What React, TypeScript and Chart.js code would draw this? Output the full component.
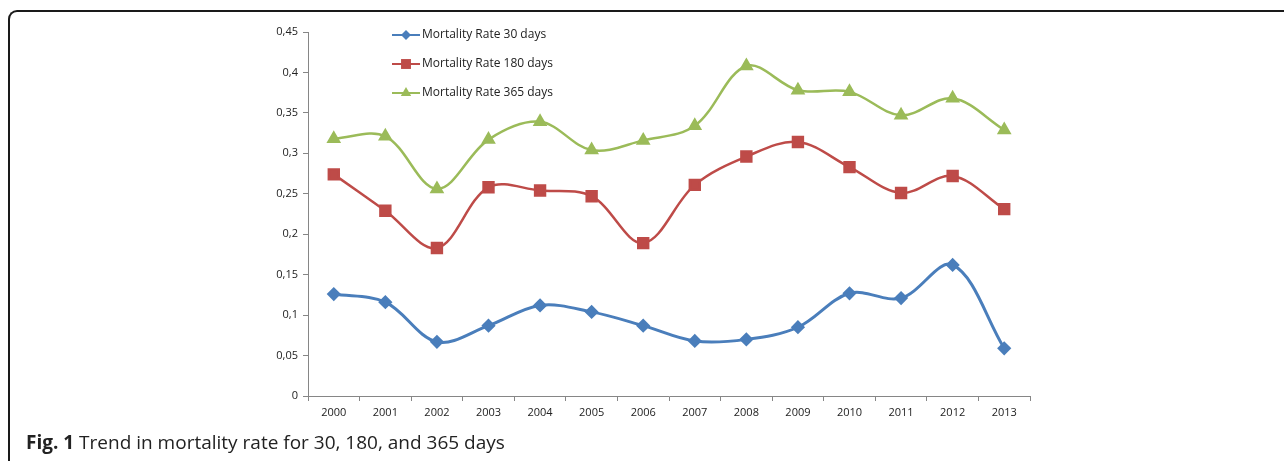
import React, { useEffect, useRef } from "react";
import { Chart, registerables } from "chart.js";

Chart.register(...registerables);

const years = ["2000","2001","2002","2003","2004","2005","2006","2007","2008","2009","2010","2011","2012","2013"];
const rate30 = [0.126,0.116,0.067,0.087,0.112,0.104,0.087,0.068,0.070,0.085,0.127,0.121,0.162,0.059];
const rate180 = [0.274,0.229,0.183,0.258,0.254,0.247,0.189,0.261,0.296,0.314,0.283,0.251,0.272,0.231];
const rate365 = [0.318,0.321,0.256,0.317,0.339,0.304,0.316,0.334,0.408,0.378,0.376,0.347,0.368,0.329];
const seriesNames = ["Mortality Rate 30 days","Mortality Rate 180 days","Mortality Rate 365 days"];
const yTicks = [0,0.05,0.1,0.15,0.2,0.25,0.3,0.35,0.4,0.45];

const BLUE = "#4A7EBB";
const RED = "#BE4B48";
const GREEN = "#9BBB59";

const legendPlugin = {
  id: "insideLegend",
  afterDraw(chart: any) {
    const ctx = chart.ctx;
    const x0 = 392, x1 = 420, y0 = 35, dy = 29;
    ctx.save();
    chart.data.datasets.forEach((ds: any, i: number) => {
      const y = y0 + i * dy;
      ctx.strokeStyle = ds.borderColor;
      ctx.lineWidth = 2;
      ctx.beginPath();
      ctx.moveTo(x0, y);
      ctx.lineTo(x1, y);
      ctx.stroke();
      const cx = (x0 + x1) / 2;
      ctx.fillStyle = ds.backgroundColor;
      ctx.beginPath();
      const r = ds.pointRadius;
      if (ds.pointStyle === "rectRot") {
        ctx.moveTo(cx, y - r); ctx.lineTo(cx + r, y); ctx.lineTo(cx, y + r); ctx.lineTo(cx - r, y);
      } else if (ds.pointStyle === "rect") {
        const s = r * Math.SQRT1_2;
        ctx.rect(cx - s, y - s, 2 * s, 2 * s);
      } else {
        ctx.moveTo(cx, y - r); ctx.lineTo(cx + r * 0.866, y + r * 0.5); ctx.lineTo(cx - r * 0.866, y + r * 0.5);
      }
      ctx.closePath();
      ctx.fill();
      ctx.fillStyle = "#222";
      ctx.font = "12px 'Open Sans'";
      ctx.textBaseline = "middle";
      ctx.textAlign = "left";
      ctx.fillText(ds.label, x1 + 2, y);
    });
    ctx.restore();
  },
};

export default function App() {
  const ref = useRef<HTMLCanvasElement>(null);
  useEffect(() => {
    if (!ref.current) return;
    const chart = new Chart(ref.current, {
      type: "line",
      data: {
        labels: years,
        datasets: [
          { label: seriesNames[0], data: rate30, borderColor: BLUE, backgroundColor: BLUE, borderWidth: 3, pointStyle: "rectRot", pointRadius: 5, tension: 0.35 },
          { label: seriesNames[1], data: rate180, borderColor: RED, backgroundColor: RED, borderWidth: 2.5, pointStyle: "rect", pointRadius: 7, tension: 0.35 },
          { label: seriesNames[2], data: rate365, borderColor: GREEN, backgroundColor: GREEN, borderWidth: 2.5, pointStyle: "triangle", pointRadius: 6, tension: 0.35 },
        ],
      },
      options: {
        animation: false,
        responsive: false,
        devicePixelRatio: 1,
        layout: { padding: { top: 32, right: 254, left: 0, bottom: 0 } },
        plugins: { legend: { display: false }, tooltip: { enabled: false } },
        scales: {
          x: {
            type: "category",
            offset: true,
            afterFit: (s: any) => { s.height = 34; },
            grid: { offset: true, drawOnChartArea: false, drawTicks: true, tickLength: 5, color: "#868686" },
            border: { display: true, color: "#868686", width: 1 },
            ticks: { color: "#222", font: { family: "'Open Sans'", size: 11 }, padding: 5, maxRotation: 0, autoSkip: false },
          },
          y: {
            min: 0,
            max: 0.45,
            afterFit: (s: any) => { s.width = 308; },
            afterBuildTicks: (s: any) => { s.ticks = yTicks.map((v) => ({ value: v })); },
            grid: { drawOnChartArea: false, drawTicks: true, tickLength: 5, color: "#868686" },
            border: { display: true, color: "#868686", width: 1 },
            ticks: {
              color: "#222",
              font: { family: "'Open Sans'", size: 11 },
              padding: 5,
              callback: (v: any) => String(Number(Number(v).toFixed(2))).replace(".", ","),
            },
          },
        },
      },
      plugins: [legendPlugin],
    } as any);
    return () => chart.destroy();
  }, []);

  return (
    <>
      <div
        style={{
          position: "fixed",
          left: 8,
          top: 10,
          width: 1300,
          height: 480,
          borderTop: "2px solid #1a1a1a",
          borderLeft: "2px solid #1a1a1a",
          borderTopLeftRadius: 9,
          boxSizing: "border-box",
        }}
      />
      <canvas
        ref={ref}
        width={1284}
        height={430}
        style={{ position: "fixed", left: 0, top: 0, width: 1284, height: 430 }}
      />
      <div
        style={{
          position: "fixed",
          left: 26,
          top: 429,
          fontFamily: "'Open Sans', sans-serif",
          fontSize: 19,
          color: "#222",
          whiteSpace: "nowrap",
        }}
      >
        <b>Fig. 1</b> Trend in mortality rate for 30, 180, and 365 days
      </div>
    </>
  );
}
